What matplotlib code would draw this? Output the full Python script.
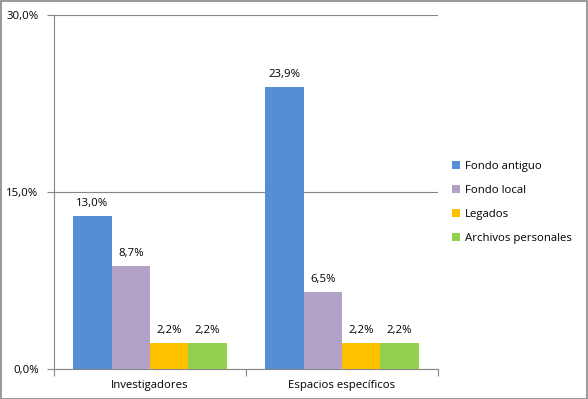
import matplotlib.pyplot as plt
import numpy as np

categories = ["Investigadores", "Espacios específicos"]
series_names = ["Fondo antiguo", "Fondo local", "Legados", "Archivos personales"]
values = [
    [13.0, 23.9],  # Fondo antiguo
    [8.7, 6.5],    # Fondo local
    [2.2, 2.2],    # Legados
    [2.2, 2.2],    # Archivos personales
]
colors = ["#558ED5", "#B3A2C7", "#FFC000", "#92D050"]
yticks = [0, 15, 30]

plt.rcParams["font.family"] = ["Open Sans", "DejaVu Sans"]
fs = 8.2

fig = plt.figure(figsize=(5.88, 3.99), dpi=100)
ax = fig.add_axes([0.0918, 0.0752, 0.653, 0.887])

x = np.arange(len(categories))
w = 0.2
for i, (name, vals) in enumerate(zip(series_names, values)):
    pos = x - 0.3 + i * w
    bars = ax.bar(pos, vals, w, color=colors[i], label=name, zorder=3)
    for b, v in zip(bars, vals):
        ax.annotate(f"{v:.1f}%".replace(".", ","),
                    (b.get_x() + b.get_width() / 2, v),
                    xytext=(0, 5), textcoords="offset points",
                    ha="center", va="bottom", fontsize=fs)

ax.set_xlim(-0.5, 1.5)
ax.set_ylim(0, 30)
ax.set_yticks(yticks)
ax.set_yticklabels([f"{t:.1f}%".replace(".", ",") for t in yticks], fontsize=fs)
ax.yaxis.grid(True, color="#868686", linewidth=0.8, zorder=0)

ax.set_xticks([-0.5, 0.5, 1.5])
ax.set_xticklabels([])
ax.set_xticks(x, minor=True)
ax.set_xticklabels(categories, minor=True, fontsize=fs)
ax.tick_params(axis="x", which="minor", length=0, pad=8)
ax.tick_params(axis="x", which="major", length=5, color="#868686")
ax.tick_params(axis="y", length=5, color="#868686", pad=6)

for s in ["top", "right"]:
    ax.spines[s].set_visible(False)
for s in ["left", "bottom"]:
    ax.spines[s].set_color("#868686")

ax.legend(loc="center left", bbox_to_anchor=(1.01, 0.47), frameon=False,
          fontsize=fs, handlelength=0.7, handleheight=0.7,
          handletextpad=0.4, labelspacing=1.15)

fig.patches.append(plt.Rectangle((0.001, 0.001), 0.997, 0.997, transform=fig.transFigure,
                                 fill=False, edgecolor="#868686", linewidth=1.2))

fig.savefig("out.png", dpi=100)
